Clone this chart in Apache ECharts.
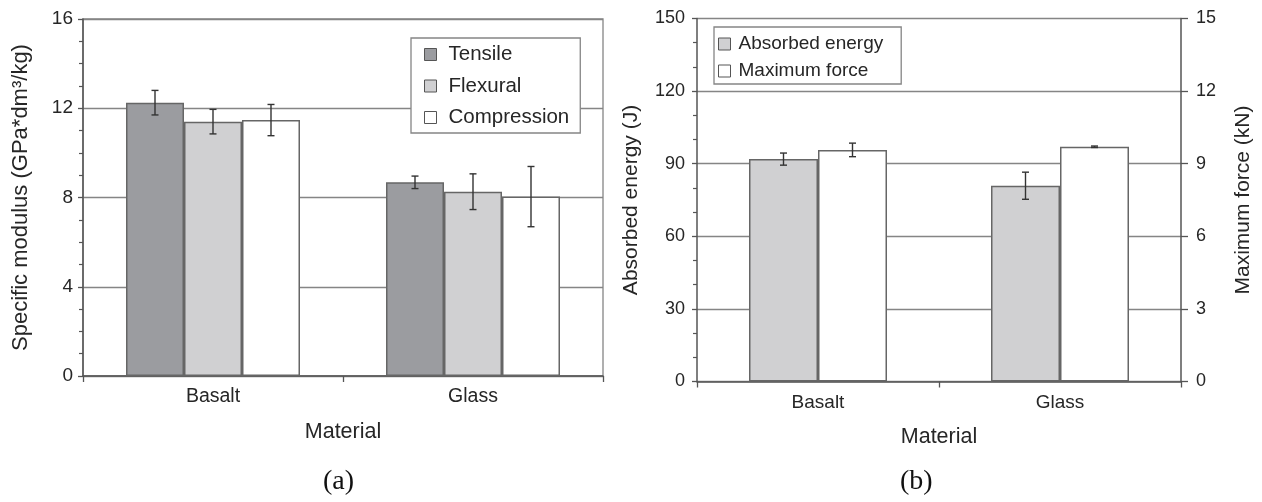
<!DOCTYPE html>
<html>
<head>
<meta charset="utf-8">
<script src="https://cdn.jsdelivr.net/npm/echarts@6/dist/echarts.min.js"></script>
<style>
html,body{margin:0;padding:0;background:#fff;}
#chart{width:1262px;height:502px;}
</style>
</head>
<body>
<div id="chart"></div>
<script>
// ---------- DATA ----------
const categories = ['Basalt', 'Glass'];
// Panel (a): specific modulus (GPa*dm3/kg)
const tensile = [12.25, 8.68];
const tensileErr = [0.55, 0.28];
const flexural = [11.4, 8.26];
const flexuralErr = [0.55, 0.8];
const compression = [11.47, 8.04];
const compressionErr = [0.7, 1.35];
// Panel (b)
const absorbedEnergy = [91.9, 80.9];      // J
const absorbedEnergyErr = [2.5, 5.6];
const maximumForce = [9.57, 9.70];        // kN
const maximumForceErr = [0.28, 0.03];
// axis ranges / ticks
const yTicksA = [0, 4, 8, 12, 16];
const yTicksBLeft = [0, 30, 60, 90, 120, 150];
const yTicksBRight = [0, 3, 6, 9, 12, 15];

// ---------- STYLE ----------
const FONT = 'Liberation Sans, Arial, sans-serif';
const TXT = '#262626';
const AXIS = '#555';
const GRIDC = '#858585';
const BORDER = '#666';
const BAR_A = 58, BAR_B = 69;

function errSeries(name, vals, errs, xi, yi, offset) {
  return {
    type: 'custom', name: name, xAxisIndex: xi, yAxisIndex: yi, z: 10,
    data: vals.map((v, i) => [i, v, errs[i]]),
    renderItem: function (params, api) {
      const c = api.value(0), v = api.value(1), e = api.value(2);
      const hi = api.coord([c, v + e]);
      const lo = api.coord([c, v - e]);
      const x = hi[0] + offset;
      const cap = 3.5;
      const st = { stroke: '#333', lineWidth: 1.4 };
      return {
        type: 'group',
        children: [
          { type: 'line', shape: { x1: x, y1: hi[1], x2: x, y2: lo[1] }, style: st },
          { type: 'line', shape: { x1: x - cap, y1: hi[1], x2: x + cap, y2: hi[1] }, style: st },
          { type: 'line', shape: { x1: x - cap, y1: lo[1], x2: x + cap, y2: lo[1] }, style: st }
        ]
      };
    }
  };
}

function bar(name, data, color, xi, yi, w) {
  return {
    type: 'bar', name: name, data: data, xAxisIndex: xi, yAxisIndex: yi,
    barWidth: w, barGap: '0%',
    itemStyle: { color: color, borderColor: BORDER, borderWidth: 1.5 }
  };
}

const sq = 'path://M0,0L10,0L10,10L0,10Z';

const option = {
  animation: false,
  backgroundColor: '#fff',
  textStyle: { fontFamily: FONT, color: TXT },
  grid: [
    { left: 83, right: 1262 - 603, top: 19, bottom: 502 - 376, show: true, borderColor: GRIDC, borderWidth: 1.3, backgroundColor: 'transparent' },
    { left: 697, right: 1262 - 1181, top: 18.5, bottom: 502 - 381.5 }
  ],
  legend: [
    {
      left: 411, top: 38, orient: 'vertical',
      data: ['Tensile', 'Flexural', 'Compression'],
      icon: sq, itemWidth: 26, itemHeight: 12, itemGap: 10.5,
      symbolKeepAspect: true,
      padding: [6, 11, 5, 13],
      backgroundColor: '#fff', borderColor: GRIDC, borderWidth: 1.3,
      itemStyle: { borderColor: '#555', borderWidth: 1 },
      textStyle: { fontFamily: FONT, fontSize: 20.5, color: TXT, lineHeight: 20 }
    },
    {
      left: 714, top: 27, orient: 'vertical',
      data: ['Absorbed energy', 'Maximum force'],
      icon: sq, itemWidth: 18, itemHeight: 12, itemGap: 7,
      symbolKeepAspect: true,
      padding: [7, 18, 3, 4],
      backgroundColor: '#fff', borderColor: GRIDC, borderWidth: 1.3,
      itemStyle: { borderColor: '#555', borderWidth: 1 },
      textStyle: { fontFamily: FONT, fontSize: 19, color: TXT, lineHeight: 20 }
    }
  ],
  xAxis: [
    {
      type: 'category', gridIndex: 0, data: categories,
      name: 'Material', nameLocation: 'middle', nameGap: 45,
      nameTextStyle: { fontSize: 21.5, color: TXT, fontFamily: FONT },
      axisLine: { lineStyle: { color: AXIS, width: 1.5 } },
      axisTick: { show: true, length: 6, lineStyle: { color: AXIS, width: 1.3 } },
      axisLabel: { fontSize: 19.5, color: TXT, margin: 11, fontFamily: FONT }
    },
    {
      type: 'category', gridIndex: 1, data: categories,
      name: 'Material', nameLocation: 'middle', nameGap: 45,
      nameTextStyle: { fontSize: 21.5, color: TXT, fontFamily: FONT },
      axisLine: { lineStyle: { color: AXIS, width: 1.5 } },
      axisTick: { show: true, length: 6, lineStyle: { color: AXIS, width: 1.3 } },
      axisLabel: { fontSize: 19, color: TXT, margin: 12, fontFamily: FONT }
    }
  ],
  yAxis: [
    {
      type: 'value', gridIndex: 0,
      min: yTicksA[0], max: yTicksA[yTicksA.length - 1], interval: yTicksA[1] - yTicksA[0],
      name: 'Specific modulus (GPa*dm³/kg)', nameLocation: 'middle', nameGap: 51, nameRotate: 90,
      nameTextStyle: { fontSize: 22, color: TXT, fontFamily: FONT },
      axisLine: { show: true, lineStyle: { color: AXIS, width: 1.5 } },
      axisTick: { show: true, length: 5, lineStyle: { color: AXIS, width: 1.3 } },
      minorTick: { show: true, splitNumber: 4, length: 4, lineStyle: { color: AXIS, width: 1.2 } },
      axisLabel: { fontSize: 19, color: TXT, margin: 10, fontFamily: FONT },
      splitLine: { show: true, lineStyle: { color: GRIDC, width: 1.3 } }
    },
    {
      type: 'value', gridIndex: 1, position: 'left',
      min: yTicksBLeft[0], max: yTicksBLeft[yTicksBLeft.length - 1], interval: yTicksBLeft[1] - yTicksBLeft[0],
      name: 'Absorbed energy (J)', nameLocation: 'middle', nameGap: 55, nameRotate: 90,
      nameTextStyle: { fontSize: 21, color: TXT, fontFamily: FONT },
      axisLine: { show: true, lineStyle: { color: AXIS, width: 1.5 } },
      axisTick: { show: true, length: 5, lineStyle: { color: AXIS, width: 1.3 } },
      minorTick: { show: true, splitNumber: 3, length: 4, lineStyle: { color: AXIS, width: 1.2 } },
      axisLabel: { fontSize: 18, color: TXT, margin: 12, fontFamily: FONT },
      splitLine: { show: true, lineStyle: { color: GRIDC, width: 1.3 } }
    },
    {
      type: 'value', gridIndex: 1, position: 'right',
      min: yTicksBRight[0], max: yTicksBRight[yTicksBRight.length - 1], interval: yTicksBRight[1] - yTicksBRight[0],
      name: 'Maximum force (kN)', nameLocation: 'middle', nameGap: 52, nameRotate: 90,
      nameTextStyle: { fontSize: 21, color: TXT, fontFamily: FONT },
      axisLine: { show: true, lineStyle: { color: AXIS, width: 1.5 } },
      axisTick: { show: true, length: 7, lineStyle: { color: AXIS, width: 1.3 } },
      axisLabel: { fontSize: 18, color: TXT, margin: 15, fontFamily: FONT },
      splitLine: { show: false }
    }
  ],
  graphic: [
    { type: 'text', left: 343 - 20, top: 468, style: { text: '(a)', fontFamily: 'Liberation Serif, Times New Roman, serif', fontSize: 28, fill: '#111' } },
    { type: 'text', left: 920 - 20, top: 468, style: { text: '(b)', fontFamily: 'Liberation Serif, Times New Roman, serif', fontSize: 28, fill: '#111' } }
  ],
  series: [
    bar('Tensile', tensile, '#9b9ca0', 0, 0, BAR_A),
    bar('Flexural', flexural, '#d0d0d2', 0, 0, BAR_A),
    bar('Compression', compression, '#ffffff', 0, 0, BAR_A),
    errSeries('errT', tensile, tensileErr, 0, 0, -BAR_A),
    errSeries('errF', flexural, flexuralErr, 0, 0, 0),
    errSeries('errC', compression, compressionErr, 0, 0, BAR_A),
    bar('Absorbed energy', absorbedEnergy, '#d0d0d2', 1, 1, BAR_B),
    bar('Maximum force', maximumForce, '#ffffff', 1, 2, BAR_B),
    errSeries('errE', absorbedEnergy, absorbedEnergyErr, 1, 1, -BAR_B / 2),
    errSeries('errM', maximumForce, maximumForceErr, 1, 2, BAR_B / 2)
  ]
};

const chart = echarts.init(document.getElementById('chart'), null, { renderer: 'canvas' });
chart.setOption(option);
</script>
</body>
</html>
